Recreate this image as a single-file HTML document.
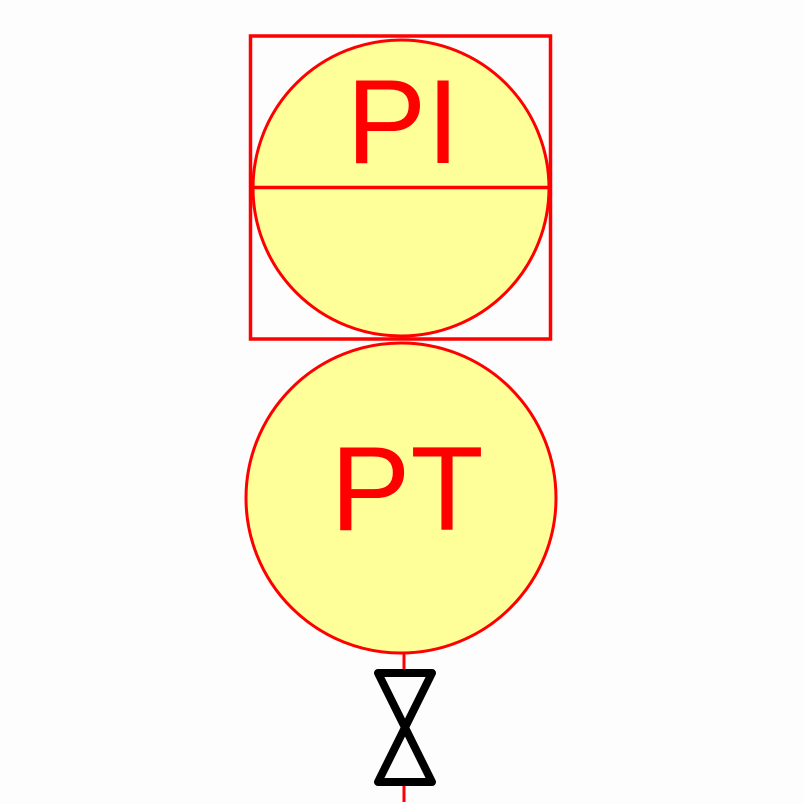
<!DOCTYPE html>
<html><head><meta charset="utf-8"><style>html,body{margin:0;padding:0;background:#fdfdfd}svg{display:block}</style></head>
<body>
<svg width="804" height="804" viewBox="0 0 804 804">
<rect x="0" y="0" width="804" height="804" fill="#fdfdfd"/>
<line x1="404" y1="653" x2="404" y2="673" stroke="#ff0000" stroke-width="3"/>
<line x1="404" y1="782" x2="404" y2="802" stroke="#ff0000" stroke-width="3"/>
<rect x="250.5" y="36" width="300" height="303" fill="none" stroke="#ff0000" stroke-width="3.5"/>
<circle cx="401" cy="188" r="148" fill="#ffff99" stroke="#ff0000" stroke-width="3"/>
<line x1="253" y1="187.5" x2="549" y2="187.5" stroke="#ff0000" stroke-width="3.5"/>
<text x="403" y="163" text-anchor="middle" font-family="Liberation Sans, sans-serif" font-size="120" fill="#ff0000">PI</text>
<circle cx="401" cy="498" r="155" fill="#ffff99" stroke="#ff0000" stroke-width="3"/>
<text x="407" y="530" text-anchor="middle" font-family="Liberation Sans, sans-serif" font-size="120" fill="#ff0000">PT</text>
<polygon points="378,673 432,673 378,782 432,782" fill="none" stroke="#000" stroke-width="8" stroke-linejoin="round"/>
</svg>
</body></html>
